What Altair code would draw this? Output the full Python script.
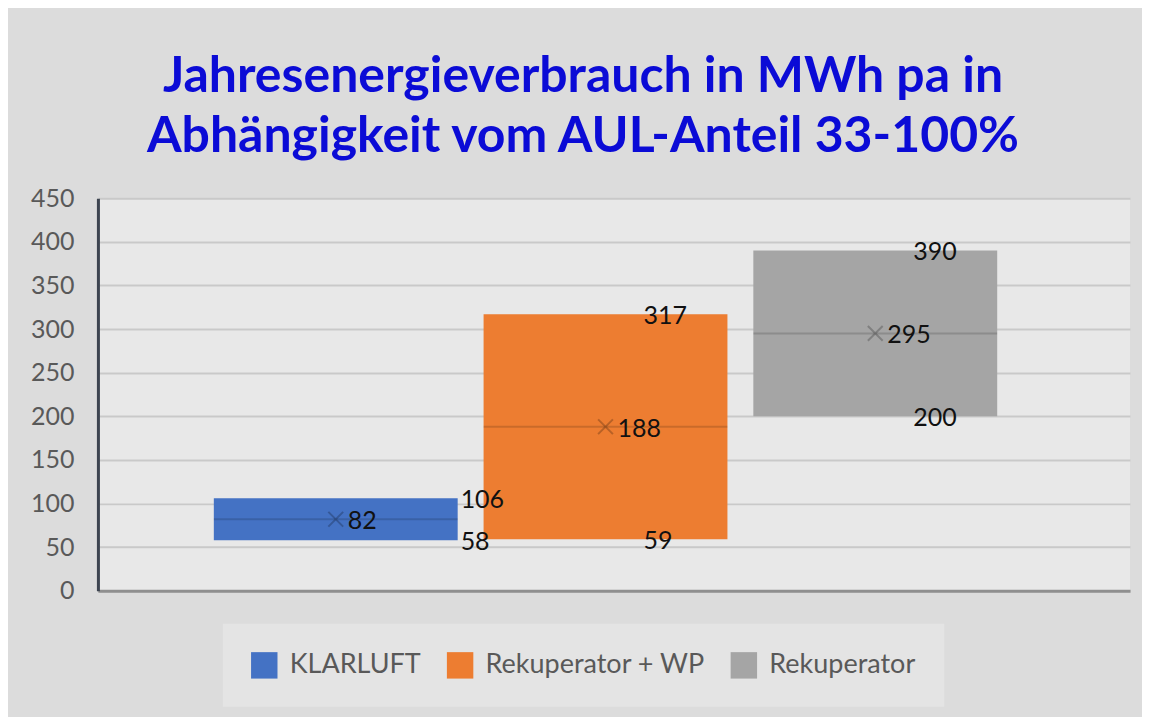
import altair as alt
import pandas as pd

series = ["KLARLUFT", "Rekuperator + WP", "Rekuperator"]
min_vals = [58, 59, 200]
max_vals = [106, 317, 390]
mean_vals = [82, 188, 295]
colors = ["#4472c4", "#ed7d31", "#a5a5a5"]
y_ticks = list(range(0, 451, 50))
title_lines = ["Jahresenergieverbrauch in MWh pa in", "Abhängigkeit vom AUL-Anteil 33-100%"]

df = pd.DataFrame({"Serie": series, "Min": min_vals, "Max": max_vals, "Mittel": mean_vals})

FONT = "Lato"

x_enc = alt.X(
    "Serie:N", sort=series,
    scale=alt.Scale(paddingInner=0.096, paddingOuter=0.461, align=0.466),
    axis=alt.Axis(title=None, labels=False, ticks=False, domain=True,
                  domainColor="#8f8f8f", domainWidth=3, grid=False),
)
y_axis = alt.Axis(title=None, values=y_ticks, labelFont=FONT, labelFontSize=25,
                  labelColor="#595959", labelPadding=24, ticks=False,
                  domainColor="#3d4450", domainWidth=3, gridColor="#c9c9c9", gridWidth=2)
y_scale = alt.Scale(domain=[0, 450], nice=False)

base = alt.Chart(df)

bars = base.mark_bar().encode(
    x=x_enc,
    y=alt.Y("Min:Q", scale=y_scale, axis=y_axis),
    y2="Max:Q",
    color=alt.Color("Serie:N", sort=series,
                    scale=alt.Scale(domain=series, range=colors),
                    legend=alt.Legend(
                        title=None, orient="none", direction="horizontal",
                        legendX=125, legendY=426, fillColor="#e4e4e4", padding=28,
                        symbolType="square", symbolSize=700, symbolStrokeWidth=0,
                        labelFont=FONT, labelFontSize=27, labelColor="#595959",
                        labelLimit=400, labelOffset=12, columnPadding=25)),
)

mean_line = base.mark_tick(size=244, thickness=2, color="black", opacity=0.15).encode(
    x=x_enc, y=alt.Y("Mittel:Q", scale=y_scale, axis=y_axis))

mean_cross = base.mark_point(shape="M-1,-1L1,1M1,-1L-1,1", size=220, strokeWidth=2,
                             color="black", opacity=0.22, filled=False).encode(
    x=x_enc, y=alt.Y("Mittel:Q", scale=y_scale, axis=y_axis))

mean_text = base.mark_text(align="left", baseline="middle", dx=12, dy=2, font=FONT,
                           fontSize=25, color="#111111").encode(
    x=x_enc, y=alt.Y("Mittel:Q", scale=y_scale, axis=y_axis), text="Mittel:Q")

folded = base.transform_fold(["Min", "Max"], as_=["Typ", "Wert"])

range_text_blue = folded.transform_filter(alt.datum.Serie == "KLARLUFT").mark_text(
    align="left", baseline="middle", dx=125, dy=2, font=FONT, fontSize=25, color="#111111"
).encode(x=x_enc, y=alt.Y("Wert:Q", scale=y_scale, axis=y_axis), text="Wert:Q")

range_text_other = folded.transform_filter(alt.datum.Serie != "KLARLUFT").mark_text(
    align="left", baseline="middle", dx=38, dy=2, font=FONT, fontSize=25, color="#111111"
).encode(x=x_enc, y=alt.Y("Wert:Q", scale=y_scale, axis=y_axis), text="Wert:Q")

chart = alt.layer(bars, mean_line, mean_cross, mean_text, range_text_blue, range_text_other).properties(
    width=1033, height=393,
    title=alt.TitleParams(text=title_lines, font=FONT, fontSize=50, fontWeight="bold",
                          color="#0b0bd6", lineHeight=60, anchor="middle", frame="group",
                          dx=-31, offset=24),
    padding={"left": 22, "top": 44, "right": 12, "bottom": 10},
    background="#dcdcdc",
).configure_view(fill="#e8e8e8", stroke=None)

chart.save("out.html", embed_options={"renderer": "svg", "actions": False})
